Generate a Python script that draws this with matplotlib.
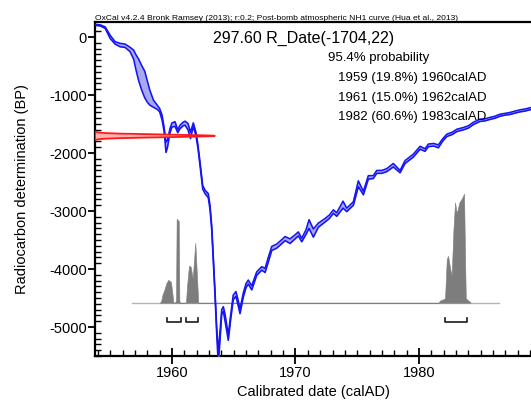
import numpy as np
import matplotlib
matplotlib.use("Agg")
import matplotlib.pyplot as plt
from matplotlib.ticker import MultipleLocator

plt.rcParams['font.family'] = ['Liberation Sans', 'DejaVu Sans']
plt.rcParams['axes.unicode_minus'] = False

# Calibration curve (post-bomb NH1), upper / lower 1-sigma edges
cal_year = [1953.77, 1954.2, 1954.6, 1955.0, 1955.4, 1955.8, 1956.2, 1956.6, 1956.9, 1957.05,
            1957.3, 1957.55, 1957.8, 1958.0, 1958.2, 1958.5, 1958.8, 1959.0, 1959.2, 1959.36,
            1959.52, 1959.64, 1959.84, 1960.0, 1960.25, 1960.47, 1960.65, 1960.9, 1961.06, 1961.3,
            1961.5, 1961.73, 1961.95, 1962.1, 1962.27, 1962.49, 1962.68, 1962.94, 1963.08, 1963.22,
            1963.35, 1963.49, 1963.62, 1963.75, 1963.9, 1964.03, 1964.16, 1964.3, 1964.43, 1964.56,
            1964.75, 1964.96, 1965.18, 1965.35, 1965.51, 1965.78, 1966.0, 1966.18, 1966.46, 1966.86,
            1967.27, 1967.54, 1967.8, 1968.08, 1968.48, 1968.75, 1969.16, 1969.56, 1969.97, 1970.23,
            1970.51, 1970.86, 1971.1, 1971.45, 1971.85, 1972.39, 1972.74, 1973.07, 1973.34, 1973.85,
            1974.15, 1974.69, 1975.09, 1975.5, 1975.9, 1976.3, 1976.58, 1976.98, 1977.39, 1977.92,
            1978.47, 1978.87, 1979.54, 1980.09, 1980.49, 1980.76, 1981.2, 1981.57, 1981.9, 1982.25,
            1982.7, 1983.06, 1983.59, 1984.0, 1984.4, 1984.94, 1985.35, 1985.75, 1986.15, 1986.56,
            1987.0, 1987.37, 1987.8, 1988.18, 1988.6, 1989.07]
cal_upper = [220, 210, 175, 30, -80, -108, -120, -175, -225, -290,
             -380, -490, -590, -750, -910, -1086, -1172, -1230, -1345, -1550,
             -1810, -1780, -1580, -1480, -1460, -1600, -1520, -1470, -1450, -1490,
             -1640, -1480, -1650, -1850, -2150, -2560, -2640, -2700, -2900, -3250,
             -3800, -4400, -5000, -5440, -5050, -4700, -4650, -4780, -4960, -5140,
             -4800, -4450, -4390, -4530, -4690, -4410, -4250, -4190, -4290, -4050,
             -3960, -3990, -3800, -3610, -3570, -3520, -3440, -3480, -3410, -3360,
             -3470, -3320, -3150, -3310, -3210, -3130, -3070, -2980, -3030, -2830,
             -2950, -2840, -2480, -2660, -2390, -2390, -2300, -2300, -2270, -2180,
             -2300, -2130, -2020, -1885, -1925, -1845, -1835, -1860, -1760, -1675,
             -1640, -1590, -1560, -1530, -1470, -1415, -1410, -1385, -1365, -1330,
             -1315, -1300, -1275, -1255, -1240, -1215]
cal_lower = [205, 192, 148, -25, -122, -167, -178, -250, -380, -530,
             -750, -914, -1050, -1120, -1172, -1210, -1245, -1287, -1431, -1620,
             -1990, -1900, -1650, -1550, -1540, -1650, -1580, -1530, -1520, -1600,
             -1750, -1540, -1710, -1910, -2210, -2620, -2700, -2770, -2970, -3320,
             -3870, -4470, -5100, -5650, -5200, -4780, -4730, -4900, -5060, -5230,
             -4880, -4530, -4470, -4620, -4770, -4480, -4320, -4260, -4360, -4110,
             -4020, -4060, -3880, -3680, -3640, -3590, -3510, -3560, -3480, -3430,
             -3530, -3400, -3300, -3450, -3280, -3190, -3130, -3040, -3090, -2950,
             -3010, -2900, -2580, -2720, -2450, -2440, -2350, -2350, -2320, -2240,
             -2340, -2180, -2070, -1935, -1970, -1890, -1880, -1910, -1800, -1715,
             -1680, -1630, -1600, -1570, -1510, -1455, -1445, -1420, -1400, -1365,
             -1345, -1335, -1310, -1290, -1275, -1250]

# Radiocarbon date R_Date(-1704, 22)
rdate_mu = -1704
rdate_sigma = 22

# Calibrated probability distribution (relative heights)
prob_year = [1959.0, 1959.11, 1959.25, 1959.36, 1959.55, 1959.7, 1959.92, 1960.05, 1960.11, 1960.28,
             1960.33, 1960.38, 1960.55, 1960.6, 1960.64, 1961.1, 1961.14, 1961.22, 1961.38, 1961.52,
             1961.68, 1961.89, 1962.0, 1962.13, 1981.6, 1981.7, 1981.94, 1982.11, 1982.25, 1982.35,
             1982.55, 1982.65, 1982.79, 1982.92, 1983.06, 1983.27, 1983.49, 1983.65, 1983.72, 1983.79,
             1984.0, 1984.19]
prob_rel = [0.0, 0.01, 0.08, 0.11, 0.18, 0.21, 0.19, 0.07, 0.0, 0.005,
            0.02, 0.77, 0.75, 0.02, 0.0, 0.0, 0.01, 0.15, 0.34, 0.33,
            0.22, 0.55, 0.3, 0.0, 0.0, 0.02, 0.03, 0.04, 0.4, 0.43,
            0.3, 0.25, 0.67, 0.92, 0.82, 0.92, 0.96, 1.0, 0.5, 0.04,
            0.02, 0.0]
dist_range = (1956.77, 1986.48)

# 95.4% ranges
range_start = [1959.57, 1961.14, 1982.11]
range_end = [1960.70, 1962.13, 1983.87]

range_lines = ["1959 (19.8%) 1960calAD",
               "1961 (15.0%) 1962calAD",
               "1982 (60.6%) 1983calAD"]

W, H = 531, 403
fig = plt.figure(figsize=(W / 100, H / 100), dpi=100)
ax = fig.add_axes([95 / W, 1 - 356 / H, 436 / W, 334 / H])

x0, x1 = 1953.77, 1989.07
y0, y1 = -5500, 260
ax.set_xlim(x0, x1)
ax.set_ylim(y0, y1)

# baseline + probability distribution
base = -4581
scale = 1879
ax.plot(dist_range, [base, base], color='#b4b4b4', lw=1.0, zorder=1)
py = base + np.array(prob_rel) * scale
ax.fill_between(prob_year, base, py, color='#7d7d7d', lw=0.4, zorder=2)

# range brackets
br_y = -4914
tick_h = 70
for s, e in zip(range_start, range_end):
    ax.plot([s, s, e, e], [br_y + tick_h, br_y, br_y, br_y + tick_h],
            color='#1a1a1a', lw=1.2, zorder=3)

# calibration curve
ax.fill_between(cal_year, cal_lower, cal_upper, color='#a9a9f2', lw=0, zorder=3)
ax.plot(cal_year, cal_upper, color='#1414f5', lw=1.15, zorder=4)
ax.plot(cal_year, cal_lower, color='#1414f5', lw=1.15, zorder=4)

# radiocarbon date as a gaussian off the y axis
rd_width = 9.7
ry = np.linspace(rdate_mu - 3.2 * rdate_sigma, rdate_mu + 3.2 * rdate_sigma, 200)
rx = x0 + rd_width * np.exp(-0.5 * ((ry - rdate_mu) / rdate_sigma) ** 2)
ax.fill_betweenx(ry, x0, rx, color='#ffb0b0', lw=0, zorder=5)
ax.plot(rx, ry, color='#ff1a1a', lw=1.3, zorder=6)

# axes styling
for side in ['left', 'bottom', 'top']:
    ax.spines[side].set_linewidth(1.6)
ax.spines['right'].set_visible(False)

ax.xaxis.set_major_locator(MultipleLocator(10))
ax.xaxis.set_minor_locator(MultipleLocator(1))
ax.yaxis.set_major_locator(MultipleLocator(1000))
ax.yaxis.set_minor_locator(MultipleLocator(100))
ax.tick_params(axis='x', which='major', direction='inout', length=12, width=1.3,
               labelsize=10.5, pad=1)
ax.tick_params(axis='x', which='minor', direction='in', length=4, width=1.0)
ax.tick_params(axis='y', which='major', direction='out', length=5, width=1.3,
               labelsize=10.5, pad=1)
ax.tick_params(axis='y', which='minor', direction='in', length=4, width=1.0)

ax.set_ylabel("Radiocarbon determination (BP)", fontsize=10.5, labelpad=14)

def fx(px):
    return px / W

def fy(py_):
    return 1 - py_ / H

fig.text(fx(313), fy(392), "Calibrated date (calAD)", fontsize=10.5, ha='center', va='center')
fig.text(fx(95), fy(20.5), "OxCal v4.2.4 Bronk Ramsey (2013); r:0.2; Post-bomb atmospheric NH1 curve (Hua et al., 2013)",
         fontsize=6.1, ha='left', va='baseline')
fig.text(fx(213), fy(38), "297.60 R_Date(-1704,22)", fontsize=11.5, ha='left', va='center')
fig.text(fx(328), fy(58), "95.4% probability", fontsize=9.5, ha='left', va='center')
for i, line in enumerate(range_lines):
    fig.text(fx(338), fy(78 + 19.5 * i), line, fontsize=9.5, ha='left', va='center')

fig.savefig("out.png", dpi=100)
